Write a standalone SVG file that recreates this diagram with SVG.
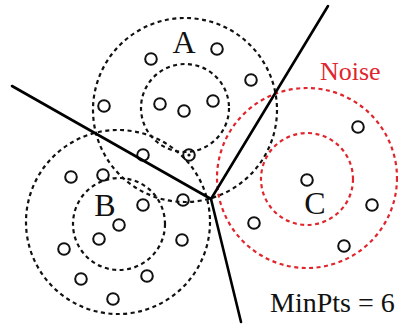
<svg xmlns="http://www.w3.org/2000/svg" width="398" height="324" viewBox="0 0 398 324">
<style>
.ring{fill:none;stroke:#111;stroke-width:2.2;stroke-dasharray:4 3.5}
.red{stroke:#e0262c}
.pt{fill:none;stroke:#111;stroke-width:2}
.bd{fill:none;stroke:#000;stroke-width:2.6;stroke-linecap:round;stroke-linejoin:round}
.lbl{font-family:"Liberation Serif","Times New Roman",serif;fill:#111}
</style>
<rect width="398" height="324" fill="#fff"/>
<g id="clusterA">
<circle class="ring" cx="185" cy="110" r="92"/>
<circle class="ring" cx="185" cy="108" r="44"/>
<text class="lbl" x="184" y="53" font-size="32" text-anchor="middle">A</text>
<circle class="pt" cx="151" cy="59" r="5.8"/>
<circle class="pt" cx="217" cy="49" r="5.8"/>
<circle class="pt" cx="251" cy="80" r="5.8"/>
<circle class="pt" cx="104" cy="106" r="5.8"/>
<circle class="pt" cx="160" cy="104" r="5.8"/>
<circle class="pt" cx="184" cy="111" r="5.8"/>
<circle class="pt" cx="213" cy="101" r="5.8"/>
<circle class="pt" cx="143" cy="155" r="5.8"/>
<circle class="pt" cx="189" cy="155" r="5.8"/>
<circle cx="189" cy="155" r="1.6" fill="#111"/>
</g>
<g id="clusterB">
<circle class="ring" cx="118" cy="222" r="92"/>
<circle class="ring" cx="119" cy="224" r="46"/>
<text class="lbl" x="105" y="216" font-size="32" text-anchor="middle">B</text>
<circle class="pt" cx="71" cy="177" r="5.8"/>
<circle class="pt" cx="103" cy="175" r="5.8"/>
<circle class="pt" cx="143" cy="205" r="5.8"/>
<circle class="pt" cx="183" cy="200" r="5.8"/>
<circle class="pt" cx="119" cy="225" r="5.8"/>
<circle class="pt" cx="99" cy="239" r="5.8"/>
<circle class="pt" cx="182" cy="240" r="5.8"/>
<circle class="pt" cx="64" cy="249" r="5.8"/>
<circle class="pt" cx="81" cy="279" r="5.8"/>
<circle class="pt" cx="147" cy="276" r="5.8"/>
<circle class="pt" cx="113" cy="299" r="5.8"/>
</g>
<g id="clusterC">
<circle class="ring red" cx="307" cy="178" r="90"/>
<circle class="ring red" cx="307" cy="179" r="46"/>
<text class="lbl" x="315" y="214" font-size="32" text-anchor="middle">C</text>
<circle class="pt" cx="358" cy="127" r="5.8"/>
<circle class="pt" cx="307" cy="180" r="5.8"/>
<circle class="pt" cx="372" cy="205" r="5.8"/>
<circle class="pt" cx="254" cy="223" r="5.8"/>
<circle class="pt" cx="344" cy="246" r="5.8"/>
</g>
<g id="connectors">
<polyline class="bd" points="12,86 211,199 328,6"/>
<line class="bd" x1="211" y1="199" x2="241" y2="322"/>
</g>
<g id="labels">
<text class="lbl" x="320" y="80" font-size="26" style="fill:#e0262c">Noise</text>
<text class="lbl" x="270" y="312" font-size="28">MinPts = 6</text>
</g>
</svg>
